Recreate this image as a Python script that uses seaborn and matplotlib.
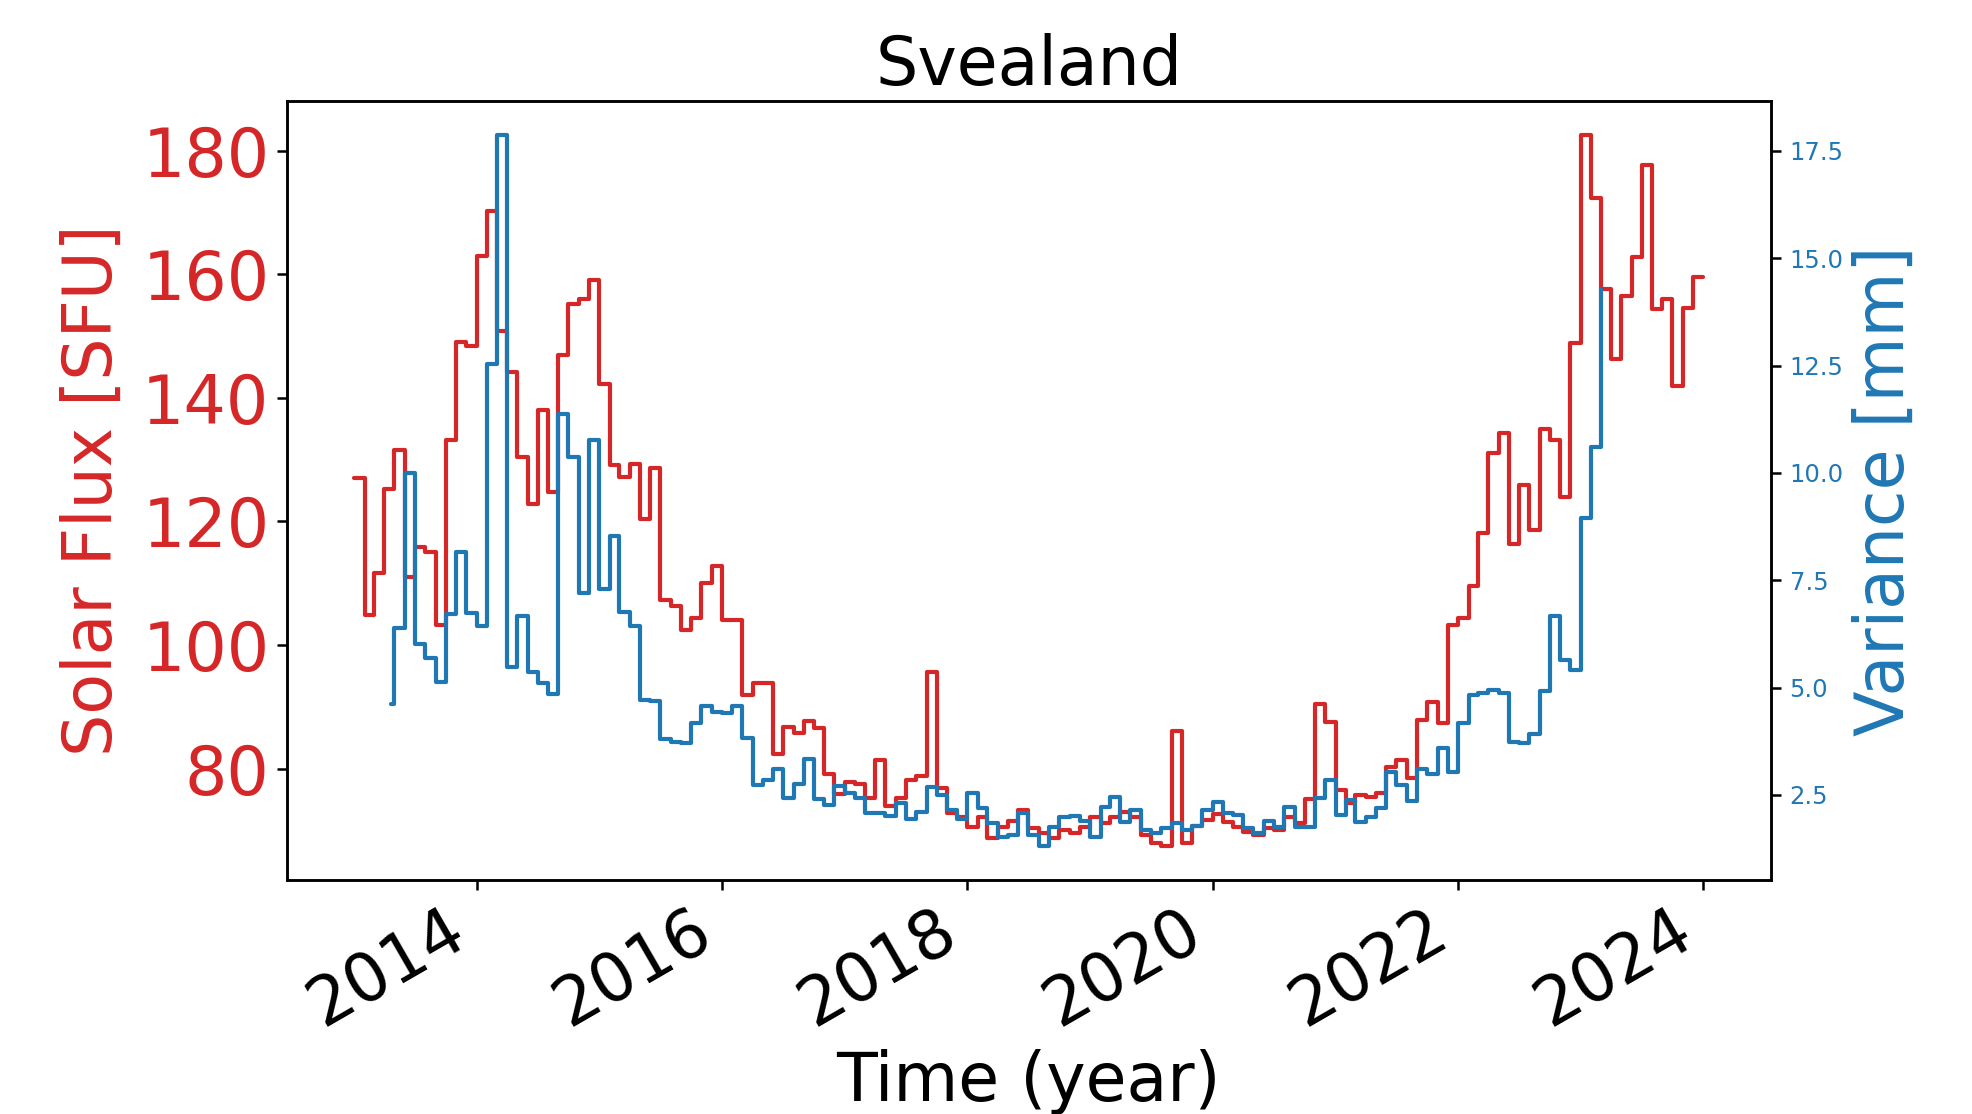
import numpy as np
import pandas as pd
import matplotlib
matplotlib.use("Agg")
import matplotlib.pyplot as plt
import matplotlib.dates as mdates
from matplotlib.ticker import FormatStrFormatter
import seaborn as sns

# ---------------- data (monthly values) ----------------
flux_start = "2013-01-01"          # first month of the solar-flux series
solar_flux = [
    127.0, 104.8, 111.7, 125.2, 131.6, 111.0, 115.8, 115.0, 103.2, 133.1, 149.0, 148.4,   # 2013
    163.0, 170.3, 150.8, 144.2, 130.5, 122.8, 138.0, 124.7, 146.9, 155.2, 156.0, 159.1,   # 2014
    142.3, 129.1, 127.2, 129.3, 120.4, 128.7, 107.3, 106.3, 102.4, 104.3, 110.0, 112.8,   # 2015
    104.0, 104.0, 91.9, 93.9, 93.9, 82.4, 86.8, 85.7, 87.7, 86.5, 79.1, 75.9,             # 2016
    77.9, 77.5, 75.2, 81.4, 73.9, 75.2, 78.1, 78.8, 95.7, 76.8, 72.8, 72.1,               # 2017
    70.6, 72.1, 68.7, 70.5, 71.5, 73.3, 70.3, 69.5, 68.7, 70.0, 69.5, 70.6,               # 2018
    72.1, 71.2, 72.1, 73.0, 72.1, 69.2, 67.9, 67.5, 86.0, 67.9, 70.7, 71.7,               # 2019
    72.7, 71.4, 70.5, 69.8, 69.2, 70.3, 70.1, 72.2, 71.2, 75.0, 90.4, 87.6,               # 2020
    76.5, 74.4, 75.7, 75.4, 76.1, 80.3, 81.4, 78.4, 87.8, 90.7, 87.3, 103.2,              # 2021
    104.3, 109.6, 118.1, 131.0, 134.3, 116.3, 125.9, 118.6, 134.9, 133.2, 123.9, 148.8,   # 2022
    182.6, 172.3, 157.6, 146.2, 156.4, 162.8, 177.7, 154.3, 156.0, 141.9, 154.5, 159.5,   # 2023
]

variance_start = "2013-04-20"      # first (partial-month) sample of the variance series
variance = [
    4.62, 6.38, 10.00, 6.02, 5.70, 5.13, 6.71, 8.16, 6.73,                                # 2013 (Apr-Dec)
    6.43, 12.53, 17.87, 5.48, 6.67, 5.37, 5.11, 4.86, 11.37, 10.36, 7.21, 10.77,          # 2014
    7.29, 8.52, 6.77, 6.43, 4.71, 4.68, 3.80, 3.73, 3.72, 4.18, 4.57, 4.42,               # 2015
    4.40, 4.57, 3.82, 2.73, 2.85, 3.10, 2.42, 2.75, 3.34, 2.40, 2.26, 2.71,               # 2016
    2.55, 2.44, 2.09, 2.07, 2.01, 2.32, 1.93, 2.11, 2.68, 2.50, 2.16, 1.95,               # 2017
    2.54, 2.19, 1.85, 1.53, 1.57, 2.07, 1.57, 1.31, 1.76, 1.99, 2.01, 1.90,               # 2018
    1.51, 2.23, 2.46, 1.88, 2.15, 1.68, 1.62, 1.72, 1.85, 1.68, 1.78, 2.15,               # 2019
    2.34, 2.07, 2.03, 1.72, 1.61, 1.90, 1.75, 2.23, 1.75, 1.75, 2.42, 2.85,               # 2020
    2.03, 2.38, 1.88, 1.99, 2.19, 3.04, 2.73, 2.36, 3.10, 2.99, 3.59, 3.04,               # 2021
    4.18, 4.83, 4.88, 4.94, 4.88, 3.74, 3.70, 3.91, 4.92, 6.67, 5.65, 5.41,               # 2022
    8.95, 10.60, 14.28,                                                                   # 2023 (Jan-Mar)
]

title = "Svealand"
x_label = "Time (year)"
left_label = "Solar Flux [SFU]"
right_label = "Variance [mm]"
left_ticks = [80, 100, 120, 140, 160, 180]
right_ticks = [2.5, 5.0, 7.5, 10.0, 12.5, 15.0, 17.5]

# ---------------- build tables ----------------
flux_dates = pd.date_range(flux_start, periods=len(solar_flux) + 1, freq="MS")
flux_df = pd.DataFrame({"date": flux_dates, "flux": solar_flux + [solar_flux[-1]]})

var_dates = [pd.Timestamp(variance_start)] + list(
    pd.date_range("2013-05-01", periods=len(variance) - 1, freq="MS"))
var_df = pd.DataFrame({"date": var_dates, "variance": variance})

# ---------------- style ----------------
sns.set_style("ticks")
plt.rcParams["font.family"] = ["DejaVu Sans"]
plt.rcParams["text.color"] = "black"
plt.rcParams["axes.labelcolor"] = "black"
plt.rcParams["xtick.color"] = "black"
plt.rcParams["ytick.color"] = "black"
RED = "#d62728"
BLUE = "#1f77b4"
BIG = 48

fig = plt.figure(figsize=(19.72, 11.14), dpi=100)
ax = fig.add_axes([0.1454, 0.2097, 0.7526, 0.7000])

sns.lineplot(data=flux_df, x="date", y="flux", ax=ax, color=RED,
             drawstyle="steps-post", lw=3.0)
ax2 = ax.twinx()
sns.lineplot(data=var_df, x="date", y="variance", ax=ax2, color=BLUE,
             drawstyle="steps-post", lw=3.0)

ax.set_ylim(61.9, 188.1)
ax2.set_ylim(0.51, 18.67)
ax.set_yticks(left_ticks)
ax2.set_yticks(right_ticks)
ax2.yaxis.set_major_formatter(FormatStrFormatter("%.1f"))

ax.xaxis.set_major_locator(mdates.YearLocator(2))
ax.xaxis.set_major_formatter(mdates.DateFormatter("%Y"))

for a in (ax, ax2):
    for s in a.spines.values():
        s.set_linewidth(1.8)
        s.set_color("black")
        s.set_visible(True)

ax.tick_params(axis="x", labelsize=BIG, length=7.5, width=1.8, pad=5,
               colors="black")
ax.tick_params(axis="y", labelsize=BIG, labelcolor=RED, length=7.5, width=1.8,
               pad=5, color="black")
ax2.tick_params(axis="y", labelsize=17.5, labelcolor=BLUE, length=7.5, width=1.8,
                pad=6, color="black")
plt.setp(ax.get_xticklabels(), rotation=30, ha="right")

ax.set_xlabel(x_label, fontsize=BIG, labelpad=7, color="black")
ax.set_ylabel(left_label, fontsize=BIG, color=RED, labelpad=12)
ax2.set_ylabel(right_label, fontsize=BIG, color=BLUE, labelpad=6)
ax.set_title(title, fontsize=BIG, pad=11, color="black")

fig.savefig("out.png", dpi=100)
